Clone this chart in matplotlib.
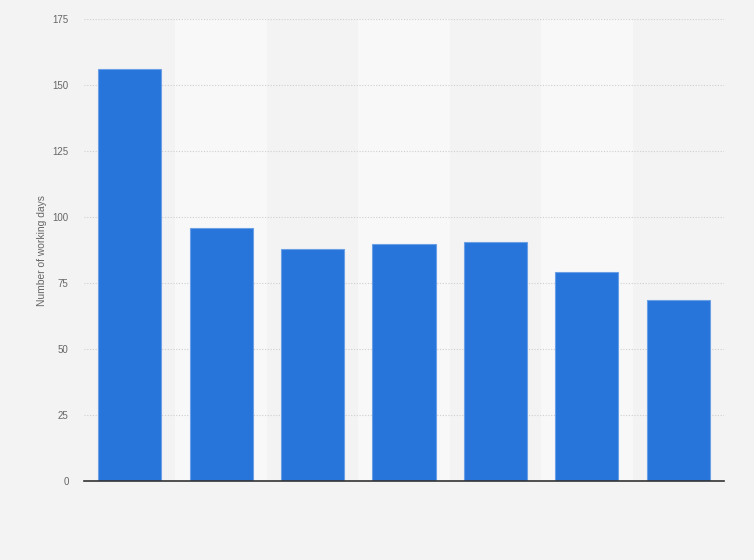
import matplotlib
matplotlib.use("Agg")
import matplotlib.pyplot as plt
import numpy as np

plt.rcParams["font.family"] = ["Liberation Sans", "DejaVu Sans"]

# Values
categories = ["1", "2", "3", "4", "5", "6", "7"]
working_days = [156.1, 95.8, 87.8, 89.7, 90.5, 79.1, 68.5]
y_ticks = [0, 25, 50, 75, 100, 125, 150, 175]

fig = plt.figure(figsize=(7.54, 5.6), dpi=100, facecolor="#f3f3f3")
ax = fig.add_axes([84 / 754, 1 - 481 / 560, 640 / 754, 462 / 560])
ax.set_facecolor("#f3f3f3")

x = np.arange(len(categories))

# alternating column bands
for i in x:
    if i % 2 == 1:
        ax.axvspan(i - 0.5, i + 0.5, color="#f8f8f8", zorder=0, lw=0)

ax.bar(x, working_days, width=0.69, color="#2775db", edgecolor="#6a9fe6",
       linewidth=0.8, zorder=3)

ax.set_xlim(-0.5, len(categories) - 0.5)
ax.set_ylim(0, 175)
ax.set_yticks(y_ticks)
ax.set_xticks([])
ax.yaxis.grid(True, linestyle=(0, (1, 1.5)), color="#cfcfcf", linewidth=0.8, zorder=1)
ax.set_axisbelow(True)

for s in ["top", "right", "left"]:
    ax.spines[s].set_visible(False)
ax.spines["bottom"].set_color("#333333")
ax.spines["bottom"].set_linewidth(1.2)
ax.spines["bottom"].set_zorder(4)

ax.tick_params(axis="y", length=0, pad=11, labelsize=7, labelcolor="#666666")
ax.set_ylabel("Number of working days", fontsize=7.4, color="#666666", labelpad=4)

fig.savefig("out.png", dpi=100, facecolor=fig.get_facecolor())
